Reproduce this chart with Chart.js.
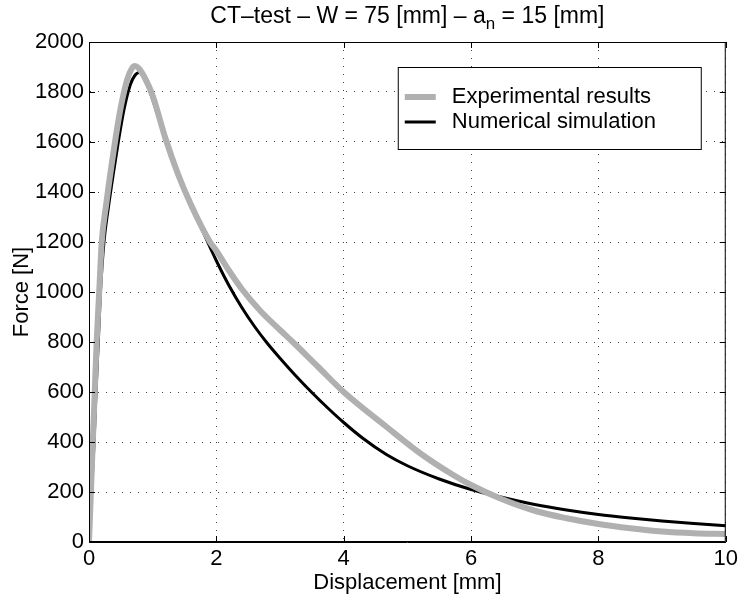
<!DOCTYPE html>
<html>
<head>
<meta charset="utf-8">
<script src="https://cdn.jsdelivr.net/npm/chart.js@4.4.0/dist/chart.umd.min.js"></script>
<style>
    html, body { margin: 0; padding: 0; background: #fff; }
</style>
</head>
<body>
<canvas id="chart" width="742" height="600"></canvas>
<script>
// 曲线数据
const expDisp  = [0, 0.03, 0.06, 0.09, 0.12, 0.16, 0.2, 0.27, 0.35, 0.42, 0.5, 0.6, 0.67, 0.72, 0.78, 0.88, 1.0, 1.2, 1.4, 1.6, 1.9, 2.0, 2.2, 2.4, 2.7, 3.0, 3.2, 3.6, 4.0, 4.67, 5.2, 5.72, 6.0, 6.45, 7.0, 7.5, 8.0, 8.5, 9.0, 9.5, 10];
const expForce = [0, 200, 400, 600, 800, 1000, 1200, 1350, 1500, 1620, 1740, 1850, 1893, 1904, 1895, 1855, 1785, 1615, 1470, 1350, 1200, 1165, 1085, 1012, 922, 848, 800, 700, 600, 461, 355, 268, 228, 175, 125, 95, 72, 55, 42, 35, 32];

const numDisp  = [0, 0.04, 0.08, 0.11, 0.146, 0.18, 0.235, 0.3, 0.38, 0.46, 0.55, 0.65, 0.72, 0.79, 0.88, 1.0, 1.1, 1.2, 1.4, 1.6, 1.8, 2.0, 2.2, 2.4, 2.6, 2.8, 3.0, 3.25, 3.5, 3.75, 4.0, 4.3, 4.67, 5.0, 5.5, 6.0, 6.45, 7.0, 7.5, 8.0, 8.5, 9.0, 9.5, 10];
const numForce = [0, 200, 400, 600, 800, 1000, 1200, 1330, 1470, 1600, 1730, 1830, 1866, 1878, 1855, 1770, 1690, 1605, 1470, 1350, 1235, 1125, 1025, 938, 862, 795, 735, 664, 598, 536, 478, 415, 350, 305, 252, 210, 181, 150, 128, 110, 96, 84, 74, 65];

const seriesNames = ['Experimental results', 'Numerical simulation'];
const xTicks = [0, 2, 4, 6, 8, 10];
const yTicks = [0, 200, 400, 600, 800, 1000, 1200, 1400, 1600, 1800, 2000];

const FONT = "'Liberation Sans', Arial, Helvetica, sans-serif";
Chart.defaults.font.family = FONT;
Chart.defaults.color = '#000';

function toPoints(xs, ys) {
    return xs.map((x, i) => ({ x: x, y: ys[i] }));
}

// 标题（带下标 n）
const titlePlugin = {
    id: 'subTitle',
    afterDraw(chart) {
        const ctx = chart.ctx;
        const area = chart.chartArea;
        const parts = [
            { t: 'CT\u2013test \u2013 W = 75 [mm] \u2013 a', size: 23, dy: 0 },
            { t: 'n', size: 17, dy: 7 },
            { t: ' = 15 [mm]', size: 23, dy: 0 }
        ];
        ctx.save();
        let total = 0;
        parts.forEach(p => {
            ctx.font = p.size + 'px ' + FONT;
            p.w = ctx.measureText(p.t).width;
            total += p.w;
        });
        let x = (area.left + area.right) / 2 - total / 2;
        const y = 17;
        ctx.fillStyle = '#000';
        ctx.textBaseline = 'middle';
        parts.forEach(p => {
            ctx.font = p.size + 'px ' + FONT;
            ctx.fillText(p.t, x, y + p.dy);
            x += p.w;
        });
        ctx.restore();
    }
};

// 边框 + 向内的刻度
const boxPlugin = {
    id: 'boxTicks',
    afterDraw(chart) {
        const ctx = chart.ctx;
        const a = chart.chartArea;
        const xs = chart.scales.x, ys = chart.scales.y;
        const len = 6;
        ctx.save();
        ctx.strokeStyle = '#000';
        ctx.lineWidth = 1;
        ctx.strokeRect(a.left + 0.5, a.top + 0.5, a.right - a.left - 1, a.bottom - a.top - 1);
        ctx.beginPath();
        xTicks.forEach(v => {
            const px = Math.round(xs.getPixelForValue(v)) + 0.5;
            ctx.moveTo(px, a.bottom); ctx.lineTo(px, a.bottom - len);
            ctx.moveTo(px, a.top); ctx.lineTo(px, a.top + len);
        });
        yTicks.forEach(v => {
            const py = Math.round(ys.getPixelForValue(v)) + 0.5;
            ctx.moveTo(a.left, py); ctx.lineTo(a.left + len, py);
            ctx.moveTo(a.right, py); ctx.lineTo(a.right - len, py);
        });
        ctx.stroke();
        ctx.restore();
    }
};

// 图例（放在绘图区内右上角）
const legendPlugin = {
    id: 'boxLegend',
    afterDraw(chart) {
        const ctx = chart.ctx;
        const a = chart.chartArea;
        const w = 303, h = 82;
        const left = a.right - 25 - w;
        const top = a.top + 25;
        ctx.save();
        ctx.fillStyle = '#fff';
        ctx.fillRect(left, top, w, h);
        ctx.strokeStyle = '#000';
        ctx.lineWidth = 1;
        ctx.strokeRect(left + 0.5, top + 0.5, w, h);
        ctx.font = '22px ' + FONT;
        ctx.textBaseline = 'middle';
        chart.data.datasets.forEach((ds, i) => {
            const y = top + 30 + i * 25;
            ctx.strokeStyle = ds.borderColor;
            ctx.lineWidth = ds.borderWidth;
            ctx.beginPath();
            ctx.moveTo(left + 7, y);
            ctx.lineTo(left + 38, y);
            ctx.stroke();
            ctx.fillStyle = '#000';
            ctx.fillText(ds.label, left + 54, y);
        });
        ctx.restore();
    }
};

new Chart(document.getElementById('chart'), {
    type: 'line',
    data: {
        datasets: [{
            label: seriesNames[0],
            data: toPoints(expDisp, expForce),
            borderColor: '#b0b0b0',
            borderWidth: 6,
            pointRadius: 0,
            cubicInterpolationMode: 'monotone',
            fill: false
        }, {
            label: seriesNames[1],
            data: toPoints(numDisp, numForce),
            borderColor: '#000',
            borderWidth: 3,
            pointRadius: 0,
            cubicInterpolationMode: 'monotone',
            fill: false
        }]
    },
    options: {
        responsive: false,
        animation: false,
        layout: { padding: { top: 42, right: 14, left: 0, bottom: 0 } },
        plugins: {
            legend: { display: false },
            title: { display: false },
            tooltip: { enabled: false }
        },
        scales: {
            x: {
                type: 'linear',
                min: 0,
                max: 10,
                afterBuildTicks: s => { s.ticks = xTicks.map(v => ({ value: v })); },
                afterFit: s => { s.height = 58; },
                ticks: { padding: 4, font: { size: 22 }, color: '#000', maxRotation: 0, callback: v => String(v) },
                grid: { color: '#444', lineWidth: 1, drawTicks: false },
                border: { color: '#000', width: 1, dash: [1, 7] },
                title: { display: true, text: 'Displacement [mm]', font: { size: 22 }, color: '#000', padding: { top: 0, bottom: 4 } }
            },
            y: {
                type: 'linear',
                min: 0,
                max: 2000,
                afterBuildTicks: s => { s.ticks = yTicks.map(v => ({ value: v })); },
                afterFit: s => { s.width = 89; },
                ticks: { padding: 5, font: { size: 22 }, color: '#000', callback: v => String(v) },
                grid: { color: '#444', lineWidth: 1, drawTicks: false },
                border: { color: '#000', width: 1, dash: [1, 7] },
                title: { display: true, text: 'Force [N]', font: { size: 22 }, color: '#000', padding: { top: 9, bottom: 0 } }
            }
        }
    },
    plugins: [titlePlugin, boxPlugin, legendPlugin]
});
</script>
</body>
</html>
